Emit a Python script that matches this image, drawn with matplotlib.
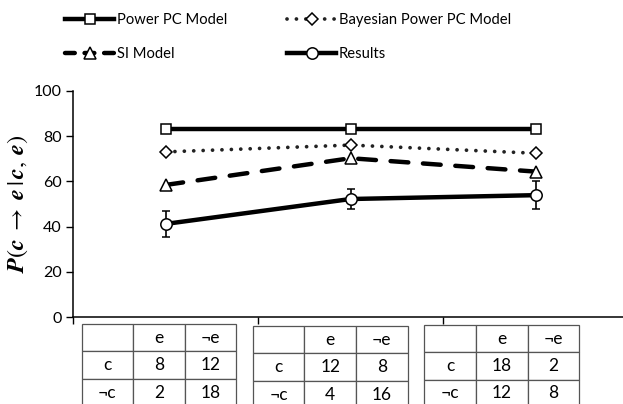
import matplotlib
matplotlib.use("Agg")
import matplotlib.pyplot as plt
from matplotlib.lines import Line2D

plt.rcParams['font.family'] = ['Lato', 'DejaVu Sans']
plt.rcParams['mathtext.fontset'] = 'stix'

conditions = [1, 2, 3]
power_pc = [83.3, 83.3, 83.3]
bayesian_power_pc = [73, 76, 72.4]
si_model = [58.4, 70.2, 64.3]
results = [41.2, 52.2, 53.9]
results_err = [5.8, 4.6, 6.3]

series_labels = ["Power PC Model", "Bayesian Power PC Model", "SI Model", "Results"]

table_header = ["", "e", "¬e"]
row_labels = ["c", "¬c"]
tables_counts = [
    [[8, 12], [2, 18]],
    [[12, 8], [4, 16]],
    [[18, 2], [12, 8]],
]

W, H = 623, 404
fig = plt.figure(figsize=(W / 100, H / 100), dpi=100)
x0, x1 = 73, 628
y0, y1 = 317.3, 90.7
ax = fig.add_axes([x0 / W, 1 - y0 / H, (x1 - x0) / W, (y0 - y1) / H])

styles = [
    dict(color='black', lw=3.2, marker='s', ms=7.5, mfc='white', mec='black', mew=1.1),
    dict(color='#222222', lw=2.7, ls=(0, (0.01, 2.5)), dash_capstyle='round',
         marker='D', ms=6.5, mfc='white', mec='black', mew=1.1),
    dict(color='black', lw=3.2, ls=(0, (4, 3.3)), dash_capstyle='round',
         marker='^', ms=8, mfc='white', mec='black', mew=1.1),
    dict(color='black', lw=3.2, marker='o', ms=8.2, mfc='white', mec='black', mew=1.1),
]

ax.plot(conditions, power_pc, label=series_labels[0], zorder=3, **styles[0])
ax.plot(conditions, bayesian_power_pc, label=series_labels[1], zorder=3, **styles[1])
ax.plot(conditions, si_model, label=series_labels[2], zorder=3, **styles[2])
ax.errorbar(conditions, results, yerr=results_err, ecolor='black', elinewidth=1.2,
            capsize=3.2, capthick=1.2, label=series_labels[3], zorder=4, **styles[3])

ax.set_xlim(0.5, 3.5)
ax.set_ylim(0, 100)
ax.set_yticks([0, 20, 40, 60, 80, 100])
ax.set_xticks([0.5, 1.5, 2.5, 3.5])
ax.set_xticklabels([])
ax.tick_params(axis='x', direction='out', length=5, width=1)
ax.tick_params(axis='y', direction='out', length=5, width=1, labelsize=11.5, pad=3)
for s in ['top', 'right']:
    ax.spines[s].set_visible(False)
for s in ['left', 'bottom']:
    ax.spines[s].set_linewidth(1.1)

ax.set_ylabel(r'$\mathbfit{P}(\mathbfit{c}\;\rightarrow\;\mathbfit{e}\,|\,\mathbfit{c},\,\mathbfit{e})$',
              fontsize=17.5, labelpad=3)

# legend (row-wise order: Power PC, Bayesian / SI, Results)
handles = [Line2D([], [], **styles[i]) for i in range(4)]
handles[2] = Line2D([], [], **{**styles[2], 'ls': (0, (2.2, 2.2))})
order = [0, 2, 1, 3]
fig.legend([handles[i] for i in order], [series_labels[i] for i in order],
           ncol=2, loc='upper left',
           bbox_to_anchor=(52 / W, 1 - 0 / H), frameon=False, fontsize=10.6,
           handlelength=3.3, columnspacing=4.1, labelspacing=1.35, handletextpad=0.2)

# tables
tab_px = [(81.7, 236.0, 324.0), (252.7, 407.7, 326.0), (424.3, 579.3, 325.0)]
row_h = 27.4
axw = x1 - x0
axh = y0 - y1
for (lx, rx, top), counts in zip(tab_px, tables_counts):
    cell_text = [table_header] + [[row_labels[i]] + [str(v) for v in counts[i]] for i in range(2)]
    bx = (lx - x0) / axw
    bw = (rx - lx) / axw
    btop = (y0 - top) / axh
    bh = 3 * row_h / axh
    tb = ax.table(cellText=cell_text, cellLoc='center',
                  bbox=[bx, btop - bh, bw, bh])
    tb.auto_set_font_size(False)
    for (r, c), cell in tb.get_celld().items():
        cell.set_edgecolor('#555555')
        cell.set_linewidth(0.9)
        cell.get_text().set_fontsize(12.5)
    tb.set_clip_on(False)

fig.savefig('out.png', dpi=100)
